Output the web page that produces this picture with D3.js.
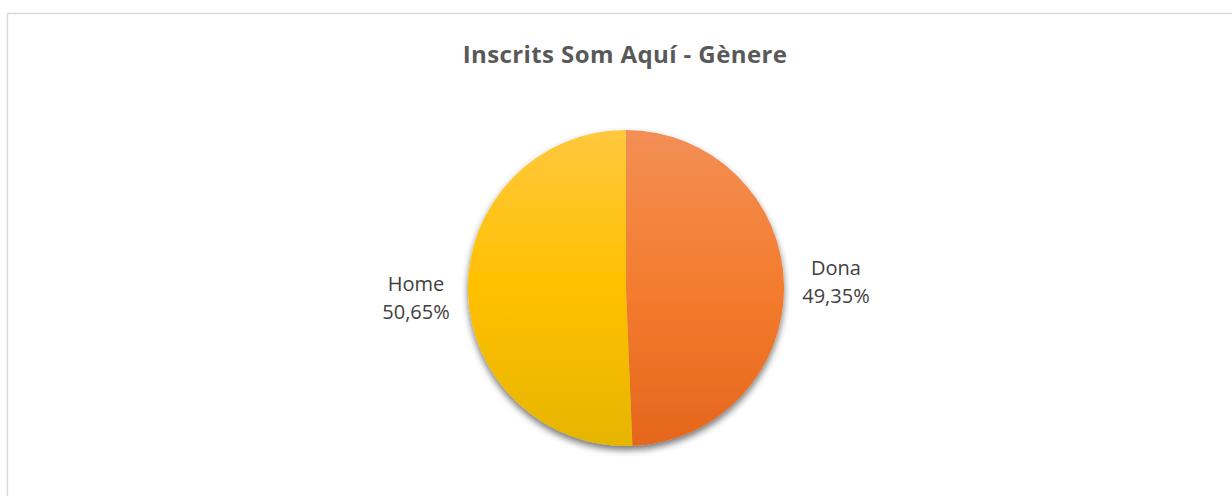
<!DOCTYPE html>
<html>
<head>
<meta charset="utf-8">
<script src="https://cdn.jsdelivr.net/npm/d3@7"></script>
<style>
  body { margin: 0; background: #fff; }
  svg { display: block; }
</style>
</head>
<body>
<div id="chart"></div>
<script>
const width = 1232,
  height = 496,
  radius = 158,
  cx = 626,
  cy = 288;

const categories = ["Dona", "Home"];
const values = [49.35, 50.65];
const labels = ["49,35%", "50,65%"];
const colorsTop = ["#F38F56", "#FFC83E"];
const colorsMid = ["#F47C2E", "#FFC000"];
const colorsBottom = ["#E4661C", "#E6B500"];

const svg = d3.select("#chart")
  .append("svg")
  .attr("width", width)
  .attr("height", height);

const defs = svg.append("defs");

// vertical gradients, in the pie group's coords
categories.forEach((c, i) => {
  const g = defs.append("linearGradient")
    .attr("id", "grad" + i)
    .attr("gradientUnits", "userSpaceOnUse")
    .attr("x1", 0).attr("y1", -radius)
    .attr("x2", 0).attr("y2", radius);
  g.append("stop").attr("offset", "0%").attr("stop-color", colorsTop[i]);
  g.append("stop").attr("offset", "50%").attr("stop-color", colorsMid[i]);
  g.append("stop").attr("offset", "100%").attr("stop-color", colorsBottom[i]);
});

const shadow = defs.append("filter")
  .attr("id", "shadow")
  .attr("x", "-20%").attr("y", "-20%")
  .attr("width", "140%").attr("height", "140%");
shadow.append("feGaussianBlur").attr("in", "SourceAlpha").attr("stdDeviation", 3.5);
shadow.append("feOffset").attr("dx", 0).attr("dy", 4).attr("result", "blur");
shadow.append("feComponentTransfer")
  .append("feFuncA").attr("type", "linear").attr("slope", 0.55);
const merge = shadow.append("feMerge");
merge.append("feMergeNode");
merge.append("feMergeNode").attr("in", "SourceGraphic");

// chart border
svg.append("rect")
  .attr("x", 7.5)
  .attr("y", 13.5)
  .attr("width", 1300)
  .attr("height", 600)
  .attr("fill", "none")
  .attr("stroke", "#D9D9D9")
  .attr("stroke-width", 1.5);

svg.append("text")
  .attr("x", 625)
  .attr("y", 63)
  .attr("text-anchor", "middle")
  .style("font-family", "'Open Sans', sans-serif")
  .style("font-weight", "bold")
  .style("font-size", "24px")
  .style("letter-spacing", "0.4px")
  .attr("fill", "#595959")
  .text("Inscrits Som Aquí - Gènere");

const pie = d3.pie().sort(null).value(d => d);
const arcs = pie(values);
const arc = d3.arc().innerRadius(0).outerRadius(radius);

const g = svg.append("g")
  .attr("transform", `translate(${cx},${cy})`);

g.append("g")
  .attr("filter", "url(#shadow)")
  .selectAll("path")
  .data(arcs)
  .join("path")
  .attr("d", arc)
  .attr("fill", (d, i) => `url(#grad${i})`);

const labelArc = d3.arc().innerRadius(radius + 52).outerRadius(radius + 52);

const lab = g.selectAll(".lbl")
  .data(arcs)
  .join("text")
  .attr("class", "lbl")
  .attr("text-anchor", "middle")
  .attr("transform", d => {
    const [x, y] = labelArc.centroid(d);
    return `translate(${x},${y})`;
  })
  .style("font-family", "'Open Sans', sans-serif")
  .style("font-size", "20px")
  .attr("fill", "#404040");

lab.append("tspan")
  .attr("x", 0)
  .attr("y", (d, i) => i === 0 ? -9 : -1)
  .text((d, i) => categories[i]);
lab.append("tspan")
  .attr("x", 0)
  .attr("y", (d, i) => i === 0 ? 19 : 27)
  .text((d, i) => labels[i]);
</script>
</body>
</html>
